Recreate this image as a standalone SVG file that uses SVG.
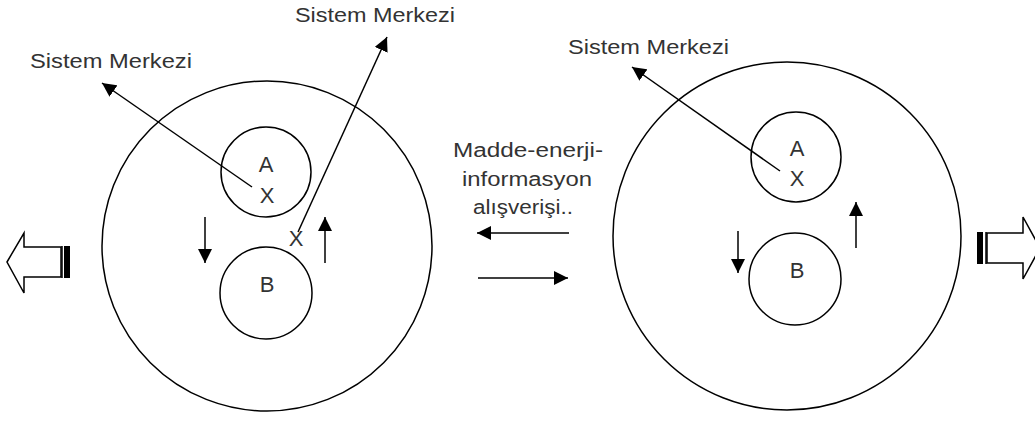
<svg xmlns="http://www.w3.org/2000/svg" width="1035" height="421" viewBox="0 0 1035 421">
<style>
.c{fill:none;stroke:#000;stroke-width:1.5}
.l{fill:none;stroke:#000;stroke-width:1.5}
.t{font-family:"Liberation Sans",Arial,sans-serif;font-size:20px;fill:#333}
.s{font-family:"Liberation Sans",Arial,sans-serif;font-size:22px;fill:#333;text-anchor:middle}
.b{fill:#fff;stroke:#000;stroke-width:1.5}
</style>
<defs>
<marker id="ah" markerUnits="userSpaceOnUse" markerWidth="16" markerHeight="14" refX="14" refY="7" orient="auto">
<path d="M0,0 L14,7 L0,14 Z" fill="#000"/>
</marker>
</defs>
<g id="left-system">
<circle class="c" cx="267" cy="246" r="165"/>
</g>
<g id="left-A">
<circle class="c" cx="266" cy="172" r="45"/>
<text class="s" x="266" y="172">A</text>
<text class="s" x="267" y="203">X</text>
</g>
<g id="left-B">
<circle class="c" cx="266" cy="293" r="46"/>
<text class="s" x="267" y="292">B</text>
</g>
<g id="left-center-x">
<text class="s" x="296" y="246">X</text>
</g>
<g id="right-system">
<circle class="c" cx="787" cy="236" r="174"/>
</g>
<g id="right-A">
<circle class="c" cx="796" cy="157" r="45"/>
<text class="s" x="797" y="156">A</text>
<text class="s" x="797" y="186">X</text>
</g>
<g id="right-B">
<circle class="c" cx="795" cy="279" r="46"/>
<text class="s" x="797" y="278">B</text>
</g>
<g id="labels">
<text class="t" x="30" y="68" textLength="162" lengthAdjust="spacingAndGlyphs">Sistem Merkezi</text>
<text class="t" x="295" y="22" textLength="160" lengthAdjust="spacingAndGlyphs">Sistem Merkezi</text>
<text class="t" x="568" y="54" textLength="161" lengthAdjust="spacingAndGlyphs">Sistem Merkezi</text>
<text class="t" x="453" y="157" textLength="150" lengthAdjust="spacingAndGlyphs">Madde-enerji-</text>
<text class="t" x="462" y="186" textLength="130" lengthAdjust="spacingAndGlyphs">informasyon</text>
<text class="t" x="473" y="214" textLength="100" lengthAdjust="spacingAndGlyphs">alışverişi..</text>
</g>
<g id="left-block-arrow">
<polygon class="b" points="7,262 24,233 24,247 61,247 61,277 24,277 24,293"/>
<line class="l" x1="62" y1="246" x2="62" y2="278"/>
<rect x="64" y="246" width="6" height="32" fill="#000"/>
</g>
<g id="right-block-arrow">
<polygon class="b" points="1040,248 1023,217 1023,233 987,233 987,263 1023,263 1023,279"/>
<line class="l" x1="986" y1="232" x2="986" y2="264"/>
<rect x="977" y="232" width="6" height="32" fill="#000"/>
</g>
<g id="connectors">
<line class="l" x1="252" y1="187" x2="102" y2="83" marker-end="url(#ah)"/>
<line class="l" x1="298" y1="232" x2="387" y2="37" marker-end="url(#ah)"/>
<line class="l" x1="780" y1="171" x2="632" y2="67" marker-end="url(#ah)"/>
<line class="l" x1="205" y1="217" x2="205" y2="263" marker-end="url(#ah)"/>
<line class="l" x1="325" y1="263" x2="325" y2="217" marker-end="url(#ah)"/>
<line class="l" x1="738" y1="231" x2="738" y2="273" marker-end="url(#ah)"/>
<line class="l" x1="856" y1="248" x2="856" y2="202" marker-end="url(#ah)"/>
<line class="l" x1="569" y1="233" x2="477" y2="233" marker-end="url(#ah)"/>
<line class="l" x1="478" y1="278" x2="568" y2="278" marker-end="url(#ah)"/>
</g>
</svg>
